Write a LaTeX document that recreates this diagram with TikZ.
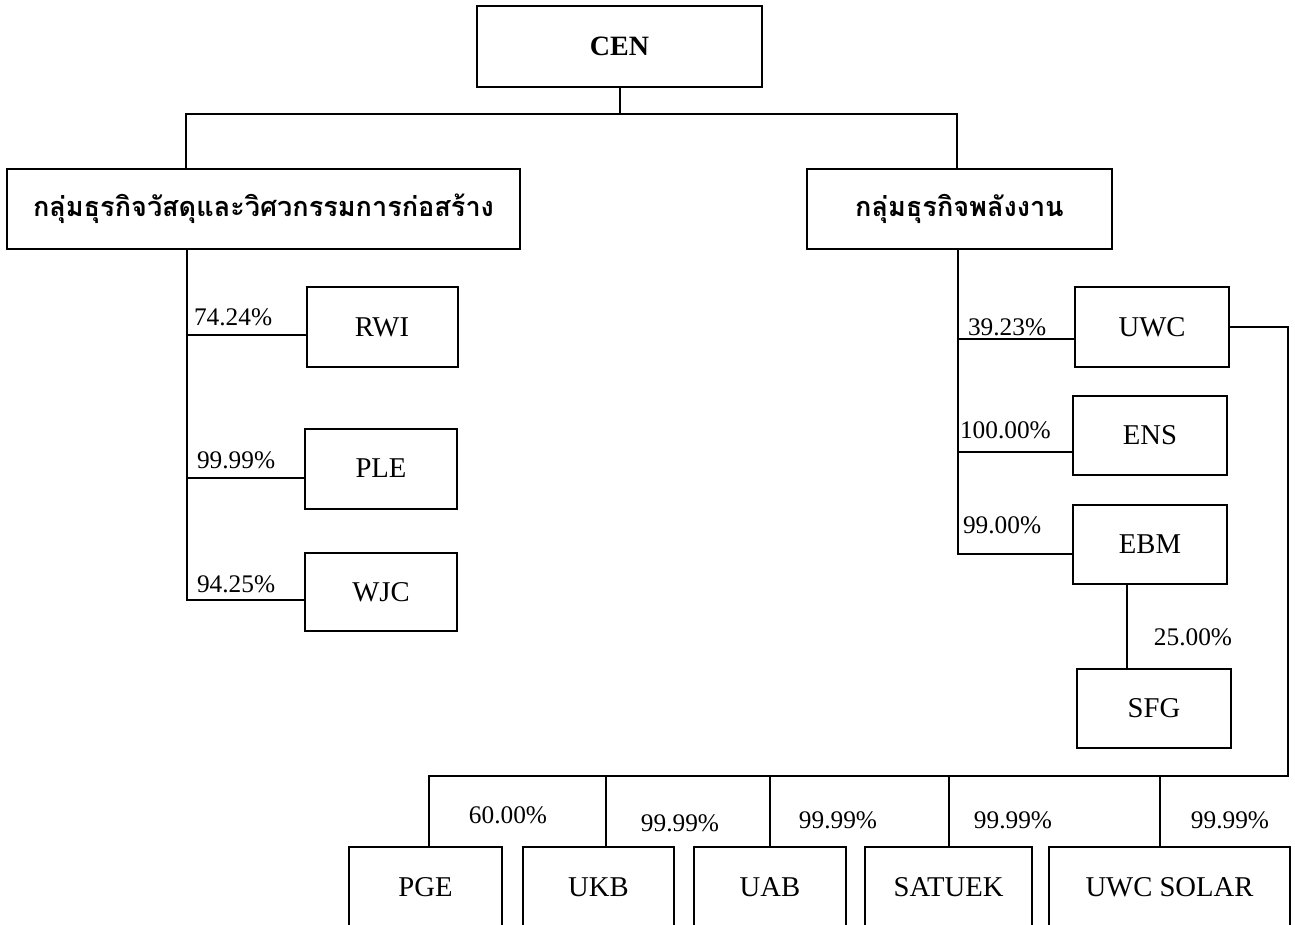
\documentclass[tikz,border=0pt]{standalone}
\usepackage{fontspec}
\setmainfont{Liberation Serif}
\newfontfamily\thaifont[Script=Thai]{Loma}
\usetikzlibrary{positioning,calc}

\begin{document}
\begin{tikzpicture}[x=0.75pt, y=-0.75pt, line width=1.5pt,
  box/.style 2 args={draw, rectangle, inner sep=0pt, minimum width=#1*0.75pt, minimum height=#2*0.75pt, font=\fontsize{21.5}{25}\selectfont},
  group/.style={font=\thaifont\bfseries\fontsize{20.3}{24}\selectfont},
  pct/.style={inner sep=0pt, font=\fontsize{19}{22}\selectfont}]
\useasboundingbox (0,0) rectangle (1295,924);
\begin{scope}
\node[box={285}{81}, font=\bfseries\fontsize{21}{25}\selectfont] (cen) at (619.5,46.5) {CEN};
\node[box={513}{80}, group] (grpmat) at (263.5,209) {กลุ่มธุรกิจวัสดุและวิศวกรรมการก่อสร้าง};
\node[box={305}{80}, group] (grpeng) at (959.5,209) {กลุ่มธุรกิจพลังงาน};
\node[box={151}{80}] (rwi) at (382,327) {RWI};
\node[box={152}{80}] (ple) at (381,468.5) {PLE};
\node[box={152}{78}] (wjc) at (381,592) {WJC};
\node[box={154}{80}] (uwc) at (1152,327) {UWC};
\node[box={154}{79}] (ens) at (1150,435.5) {ENS};
\node[box={154}{79}] (ebm) at (1150,544.5) {EBM};
\node[box={154}{79}] (sfg) at (1154,708.5) {SFG};
\node[box={153}{80}] (pge) at (425.5,887) {PGE};
\node[box={151}{80}] (ukb) at (598.5,887) {UKB};
\node[box={152}{80}] (uab) at (770,887) {UAB};
\node[box={167}{80}] (satuek) at (948.5,887) {SATUEK};
\node[box={241}{80}] (uwcsolar) at (1169.5,887) {UWC SOLAR};
\end{scope}
\begin{scope}
\coordinate (matjoin) at (186,114);
\coordinate (engjoin) at (957,114);
\coordinate (mattrunk) at (187,0);
\coordinate (engtrunk) at (958,0);
\coordinate (busend) at (1288,776);
\coordinate (busstart) at (429,776);
%\draw () -- ();
\draw (cen) -- (cen |- matjoin);
\draw (matjoin |- grpmat.north) -- (matjoin) -- (engjoin) -- (engjoin |- grpeng.north);
\draw (grpmat.south -| mattrunk) |- (wjc.186);
\draw (mattrunk |- rwi.186) -- (rwi.186);
\draw (mattrunk |- ple.187) -- (ple.187);
\draw (grpeng.south -| engtrunk) |- (ebm.187);
\draw (engtrunk |- uwc.189) -- (uwc.189);
\draw (engtrunk |- ens.192) -- (ens.192);
\draw (ebm.south -| 1127,0) -- (sfg.north -| 1127,0);
\draw (uwc.east) -| (busend) -- (busstart) -- (busstart |- pge.north);
\draw (ukb.79) -- (ukb.79 |- busend);
\draw (uab.north) -- (uab.north |- busend);
\draw (satuek.north) -- (satuek.north |- busend);
\draw (uwcsolar.103) -- (uwcsolar.103 |- busend);
\end{scope}
\begin{scope}[every node/.style={pct}]
\node[anchor=base west] (lrwi) at (193,325) {74.24\%};
\node[anchor=base west] (lple) at (196,468) {99.99\%};
\node[anchor=base west] (lwjc) at (196,592) {94.25\%};
\node[anchor=base west] (luwc) at (967,335) {39.23\%};
\node[anchor=base west] (lens) at (959,438) {100.00\%};
\node[anchor=base west] (lebm) at (962,533) {99.00\%};
\node[anchor=base] (lsfg) at (1193,645) {25.00\%};
\node[anchor=base] (lpge) at (508,823) {60.00\%};
\node[anchor=base] (lukb) at (680,831) {99.99\%};
\node[anchor=base] (luab) at (838,828) {99.99\%};
\node[anchor=base] (lsatuek) at (1013,828) {99.99\%};
\node[anchor=base] (luwcsolar) at (1230,828) {99.99\%};
\end{scope}
\end{tikzpicture}
\end{document}
